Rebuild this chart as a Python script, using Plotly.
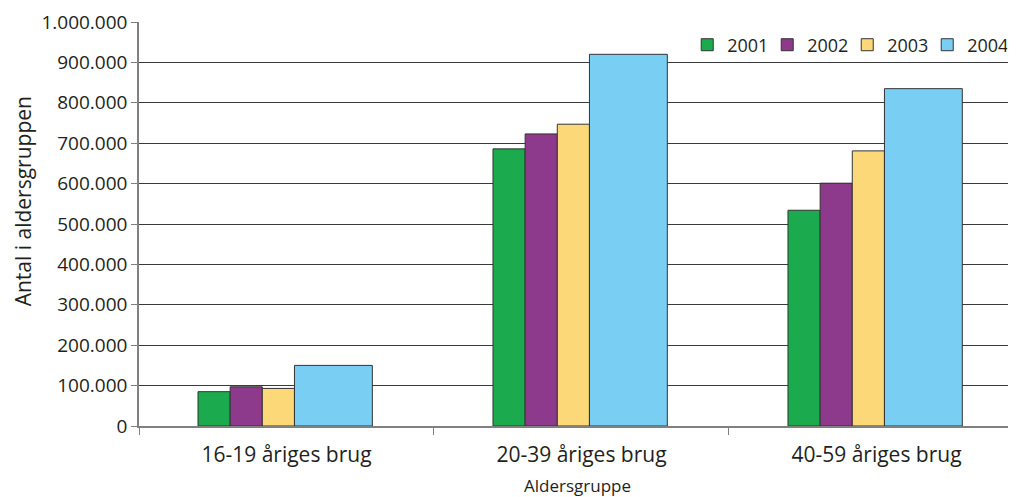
import plotly.graph_objects as go

# data
categories = ['16-19 åriges brug', '20-39 åriges brug', '40-59 åriges brug']
years = ['2001', '2002', '2003', '2004']
v2001 = [85000, 686000, 534000]
v2002 = [97000, 723000, 601000]
v2003 = [93000, 747000, 681000]
v2004 = [150000, 920000, 835000]

COLORS = ['#1BAA4E', '#8D3A8C', '#FDD878', '#79CFF3']
FONT = 'Open Sans'

# narrow bars for 2001-2003, a wide one for 2004
NARROW = 0.109
WIDE = 0.264
START = -0.30

fig = go.Figure()
offset = START
for yr, vals, col in zip(years, [v2001, v2002, v2003, v2004], COLORS):
    w = WIDE if yr == '2004' else NARROW
    fig.add_trace(go.Bar(
        x=categories, y=vals, name=yr,
        width=[w] * len(categories), offset=offset,
        marker=dict(color=col, line=dict(color='#333333', width=1)),
    ))
    offset += w

# page body has an 8px margin, so the figure is a bit smaller than the window
fig.update_layout(
    width=1008, height=489,
    margin=dict(l=131, r=0, t=14, b=71),
    paper_bgcolor='white', plot_bgcolor='white',
    separators=',.',
    font=dict(family=FONT, size=19, color='#231f20'),
    barmode='overlay',
    showlegend=True,
    legend=dict(
        orientation='h', x=0.99, xanchor='right', y=0.943, yanchor='middle',
        bgcolor='rgba(0,0,0,0)', font=dict(size=18), itemwidth=30, entrywidth=35,
        traceorder='normal',
    ),
)
fig.update_xaxes(
    type='category', range=[-0.5, 2.473],
    showline=True, linecolor='#808080', linewidth=1.5,
    ticks='outside', tickson='boundaries', ticklen=7, tickcolor='#808080',
    tickfont=dict(size=21), ticklabelstandoff=9,
    showgrid=False,
    title=dict(text='Aldersgruppe', font=dict(size=17), standoff=13),
)
fig.update_yaxes(
    range=[0, 1000000], dtick=100000, tickformat=',d',
    showline=True, linecolor='#808080', linewidth=1.5,
    ticks='outside', ticklen=6, tickcolor='#808080',
    showgrid=True, gridcolor='#3a3a3a', gridwidth=1,
    zeroline=False,
)
# y title sits a little above the middle of the axis
fig.add_annotation(
    text='Antal i aldersgruppen', textangle=-90, showarrow=False,
    xref='paper', yref='paper', x=-0.1323, y=0.556,
    xanchor='center', yanchor='middle', font=dict(size=21),
)

fig.write_html('out.html')
